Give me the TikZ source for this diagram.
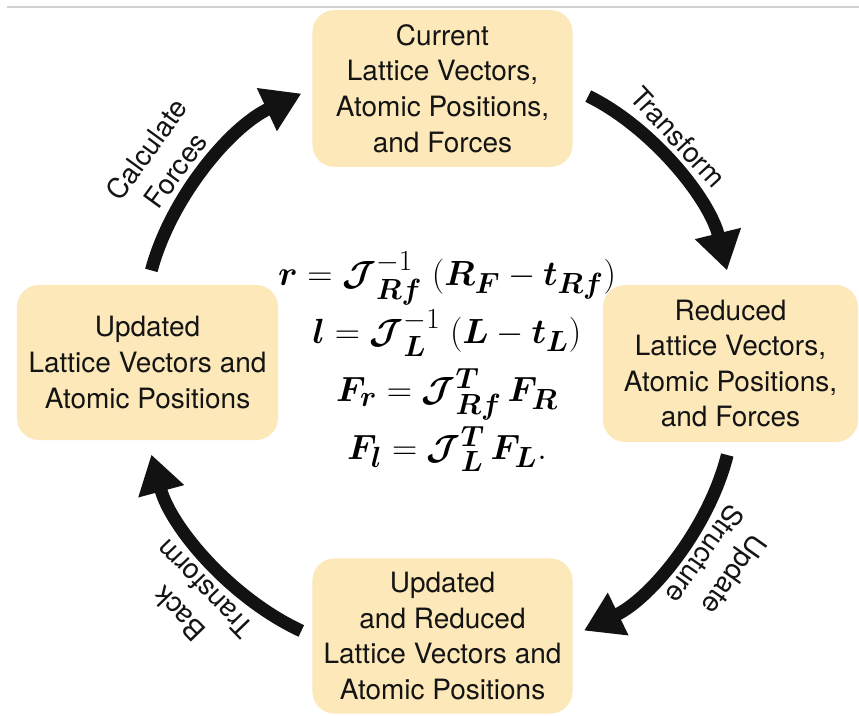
\documentclass[tikz,border=0pt]{standalone}
\usepackage{amsmath}
\usepackage{bm}
\usepackage{fontspec}
\setmainfont{TeX Gyre Heros}
\usepackage{xcolor}
\usepackage{tikz}
\usetikzlibrary{arrows.meta, positioning}

\definecolor{boxfill}{RGB}{252,232,184}
\newcommand{\bJ}{\bm{\mathcal{J}}}

\begin{document}
\begin{tikzpicture}[
    x=0.025cm, y=0.025cm,
    cnode/.style={rectangle, fill=boxfill, rounded corners=0.55cm, align=center, inner sep=0pt, minimum width=6.5cm, minimum height=3.92cm, text=black!92, font=\fontsize{19.9pt}{25.3pt}\selectfont},
    lbl/.style={align=center, text=black!92, font=\fontsize{19.9pt}{25.3pt}\selectfont},
    arr/.style={-{Triangle[length=0.95cm, width=1.12cm]}, line width=0.32cm, color=black!93, bend left=25, looseness=0.9},
    eqn/.style={align=center, font=\fontsize{27.5pt}{41.2pt}\selectfont}
]

\useasboundingbox (0,0) rectangle (859,715);
\draw[black!18, line width=0.04cm] (7,708) -- (859,708);

\node[cnode] (cur) at (442.5,626.5) {Current\\Lattice Vectors,\\Atomic Positions,\\and Forces};
\node[cnode, minimum width=6.375cm] (red) at (730.5,351.5) {Reduced\\Lattice Vectors,\\Atomic Positions,\\and Forces};
\node[cnode, minimum height=3.875cm] (upr) at (442.5,79) {Updated\\and Reduced\\Lattice Vectors and\\Atomic Positions};
\node[cnode, minimum width=6.525cm, minimum height=3.875cm] (upd) at (147.5,352.5) {Updated\\Lattice Vectors and\\Atomic Positions};

\node[eqn] (eqs) at (447,353) {%
    $\bm{r} = \bJ^{-1}_{\bm{Rf}}\;(\bm{R}_{\bm{F}} - \bm{t}_{\bm{Rf}})$\\
    $\bm{l} = \bJ^{-1}_{\bm{L}}\;(\bm{L} - \bm{t}_{\bm{L}})$\\
    $\bm{F}_{\bm{r}} = \bJ^{\bm{T}}_{\bm{Rf}}\,\bm{F}_{\bm{R}}$\\
    $\bm{F}_{\bm{l}} = \bJ^{\bm{T}}_{\bm{L}}\,\bm{F}_{\bm{L}}.$};

\draw[arr, shorten <=0.37cm, shorten >=0.3cm] (upd.north) to node[lbl, pos=0.42, sloped, above=2pt] {Calculate\\Forces} (cur.west);
\draw[arr, shorten <=0.43cm, shorten >=0.37cm] (cur.east) to node[lbl, pos=0.42, sloped, above=2pt] {Transform} (red.north);
\draw[arr, shorten <=0.33cm, shorten >=0.31cm] (red.south) to node[lbl, pos=0.42, sloped, allow upside down, above=2pt] {Update\\Structure} (upr.east);
\draw[arr, shorten <=0.3cm, shorten >=0.37cm] (upr.west) to node[lbl, pos=0.42, sloped, allow upside down, above=2pt] {Back\\Transform} (upd.south);

\end{tikzpicture}
\end{document}
